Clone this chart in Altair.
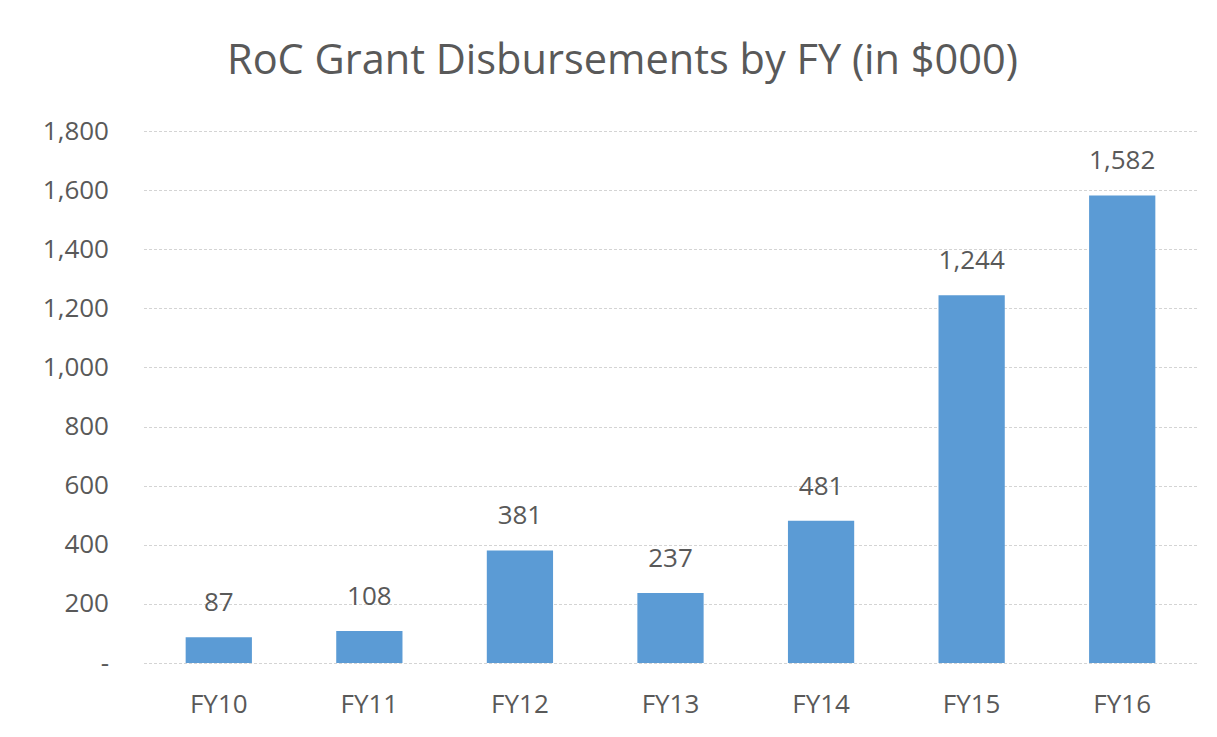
import altair as alt
import pandas as pd

categories = ["FY10", "FY11", "FY12", "FY13", "FY14", "FY15", "FY16"]
values = [87, 108, 381, 237, 481, 1244, 1582]
y_ticks = [0, 200, 400, 600, 800, 1000, 1200, 1400, 1600, 1800]

df = pd.DataFrame({"fy": categories, "amount": values})

FONT = "Open Sans"
TEXT = "#595959"

base = alt.Chart(df).encode(
    x=alt.X("fy:N", sort=categories, title=None,
            scale=alt.Scale(paddingInner=0.56, paddingOuter=0.28),
            axis=alt.Axis(labelAngle=0, ticks=False, domain=False,
                          labelPadding=28, labelFontSize=26, labelColor=TEXT,
                          labelFont=FONT, grid=False)),
    y=alt.Y("amount:Q", title=None,
            scale=alt.Scale(domain=[0, 1800], nice=False),
            axis=alt.Axis(values=y_ticks, ticks=False, domain=False,
                          labelPadding=35, labelFontSize=26, labelColor=TEXT,
                          labelFont=FONT, gridColor="#d4d4d4", gridWidth=1,
                          gridDash=[3, 2],
                          labelExpr="datum.value == 0 ? '-' : format(datum.value, ',')")),
)

bars = base.mark_bar(color="#5B9BD5")
labels = base.mark_text(dy=-26, baseline="alphabetic", fontSize=26, font=FONT,
                        color=TEXT).encode(text=alt.Text("amount:Q", format=","))

chart = (bars + labels).properties(
    width=1054,
    height=532,
    title=alt.TitleParams("RoC Grant Disbursements by FY (in $000)",
                          fontSize=41.5, font=FONT, fontWeight="normal",
                          color=TEXT, anchor="middle", dx=-48, offset=36),
    autosize=alt.AutoSizeParams(type="none"),
    padding={"left": 135.5, "top": 123, "right": 10, "bottom": 60},
).configure(background="white").configure_view(stroke=None)

chart.save("out.html", embed_options={"renderer": "svg", "actions": False})
